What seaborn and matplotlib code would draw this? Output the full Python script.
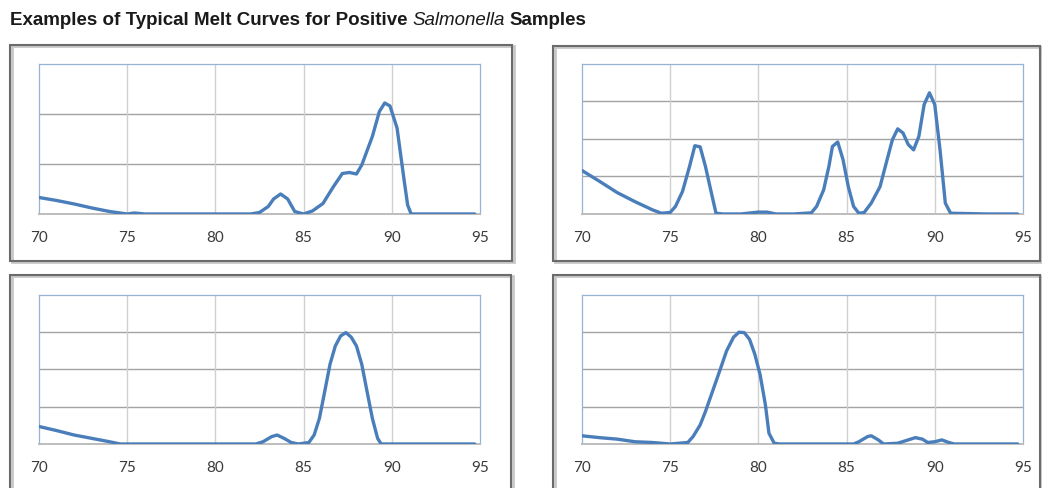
import matplotlib
matplotlib.use("Agg")
import matplotlib.pyplot as plt
import matplotlib.patches as patches
import seaborn as sns

# melt curve samples (temperature, -dF/dT in grid units)
temps1 = [70, 71, 72, 73, 74, 75, 75.4, 76, 78, 80, 82, 82.5, 83, 83.3, 83.7, 84.1, 84.5, 85.0,
          85.5, 86.1, 86.7, 87.2, 87.6, 88.0, 88.3, 88.9, 89.3, 89.6, 89.9, 90.3, 90.7, 90.9,
          91.1, 93, 94.7]
deriv1 = [0.33, 0.27, 0.2, 0.12, 0.05, 0.0, 0.02, 0.0, 0.0, 0.0, 0.0, 0.03, 0.15, 0.3, 0.4, 0.3,
          0.05, 0.0, 0.06, 0.21, 0.55, 0.81, 0.83, 0.8, 0.98, 1.55, 2.05, 2.22, 2.16, 1.72, 0.68,
          0.18, 0.0, 0.0, 0.0]

temps2 = [70, 71, 72, 73, 74, 74.5, 75, 75.3, 75.7, 76.1, 76.4, 76.7, 77.0, 77.3, 77.6, 78, 79,
          80, 80.5, 81, 82, 83, 83.3, 83.7, 84.0, 84.2, 84.5, 84.8, 85.1, 85.4, 85.7, 86.0, 86.4,
          86.9, 87.3, 87.6, 87.9, 88.2, 88.5, 88.8, 89.1, 89.4, 89.7, 90.0, 90.3, 90.6, 90.9,
          93, 94.7]
deriv2 = [1.16, 0.87, 0.57, 0.33, 0.11, 0.02, 0.04, 0.2, 0.6, 1.27, 1.82, 1.79, 1.27, 0.64, 0.02,
          0.0, 0.0, 0.05, 0.05, 0.0, 0.0, 0.03, 0.2, 0.64, 1.27, 1.8, 1.92, 1.45, 0.73, 0.2, 0.02,
          0.04, 0.29, 0.73, 1.45, 1.98, 2.27, 2.16, 1.85, 1.71, 2.07, 2.92, 3.23, 2.92, 1.71, 0.29,
          0.02, 0.0, 0.0]

temps3 = [70, 71, 72, 73, 74, 74.6, 78, 82.3, 82.7, 83.2, 83.5, 83.9, 84.3, 84.7, 85.3, 85.6,
          85.9, 86.2, 86.5, 86.8, 87.1, 87.4, 87.7, 88.0, 88.3, 88.6, 88.9, 89.2, 89.4, 92, 94.7]
deriv3 = [0.47, 0.36, 0.24, 0.15, 0.06, 0.0, 0.0, 0.0, 0.06, 0.2, 0.24, 0.15, 0.04, 0.0, 0.04,
          0.24, 0.69, 1.41, 2.14, 2.63, 2.9, 2.99, 2.87, 2.63, 2.14, 1.41, 0.69, 0.15, 0.0, 0.0, 0.0]

temps4 = [70, 71, 72, 73, 74, 75, 76, 76.3, 76.7, 77.0, 77.4, 77.8, 78.2, 78.6, 78.9, 79.2, 79.5,
          79.8, 80.1, 80.4, 80.6, 80.9, 81.2, 83, 85.4, 85.7, 86.2, 86.4, 86.8, 87.1, 87.9, 88.5,
          88.9, 89.3, 89.6, 90.0, 90.4, 90.8, 91.1, 93, 94.7]
deriv4 = [0.22, 0.17, 0.13, 0.06, 0.04, 0.0, 0.04, 0.2, 0.51, 0.87, 1.41, 1.95, 2.5, 2.87, 3.0,
          2.99, 2.81, 2.41, 1.86, 1.05, 0.29, 0.02, 0.0, 0.0, 0.0, 0.06, 0.2, 0.22, 0.11, 0.0,
          0.02, 0.11, 0.17, 0.13, 0.04, 0.06, 0.11, 0.04, 0.0, 0.0, 0.0]

x_ticks = [70, 75, 80, 85, 90, 95]
y_tops = [3, 4, 4, 4]

sns.set_style("white")
plt.rcParams["font.family"] = ["Liberation Sans", "DejaVu Sans"]

fig = plt.figure(figsize=(10.42, 4.88), dpi=100)

# axes rectangles (figure fractions) and outer frames
ax_boxes = [[0.0374, 0.5615, 0.4232, 0.3074], [0.5585, 0.5615, 0.4232, 0.3074],
            [0.0374, 0.0902, 0.4232, 0.3053], [0.5585, 0.0902, 0.4232, 0.3053]]
frames = [[0.0096, 0.4652, 0.4818, 0.4426], [0.5307, 0.4652, 0.4674, 0.4406],
          [0.0096, -0.05, 0.4808, 0.4865], [0.5307, -0.05, 0.4674, 0.4865]]

for fr in frames:
    fig.patches.append(patches.Rectangle((fr[0] + 0.0015, fr[1] - 0.003), fr[2], fr[3],
                                         transform=fig.transFigure, fill=False,
                                         edgecolor="#c8c8c8", lw=2.0))
    fig.patches.append(patches.Rectangle((fr[0], fr[1]), fr[2], fr[3], transform=fig.transFigure,
                                         fill=False, edgecolor="#6b6b6b", lw=1.5))

series = [(temps1, deriv1), (temps2, deriv2), (temps3, deriv3), (temps4, deriv4)]
axes = []
for box, (tx, dy), top in zip(ax_boxes, series, y_tops):
    ax = fig.add_axes(box)
    axes.append(ax)
    for yv in range(1, top):
        ax.axhline(yv, color="#a3a3a3", lw=1.0, zorder=1)
    for xv in x_ticks[1:-1]:
        ax.axvline(xv, color="#d0d0d0", lw=1.0, zorder=1)
    sns.lineplot(x=tx, y=dy, ax=ax, color="#4a7ebb", lw=2.4, zorder=3)
    ax.set_xlim(70, 95)
    ax.set_ylim(0, top)
    ax.set_xticks(x_ticks)
    ax.set_xticklabels([str(t) for t in x_ticks], family=["Lato", "DejaVu Sans"], fontsize=11,
                       color="#3a3a3a")
    ax.set_yticks([])
    ax.tick_params(axis="x", length=0, pad=12)
    for side in ["top", "left", "right"]:
        ax.spines[side].set_color("#95b3d7")
        ax.spines[side].set_linewidth(0.9)
    ax.spines["bottom"].set_color("#bdbdbd")
    ax.spines["bottom"].set_linewidth(1.4)
    ax.set_xlabel("")
    ax.set_ylabel("")

# title with italic genus name
title_size = 13.5
t1 = fig.text(0.0096, 0.957, "Examples of Typical Melt Curves for Positive", fontsize=title_size,
              fontweight="bold", color="#1a1a1a", va="center", ha="left")
t2 = axes[0].annotate("Salmonella", xy=(1, 0), xycoords=t1, xytext=(3.6, 0),
                      textcoords="offset points", fontsize=title_size, fontstyle="italic",
                      color="#1a1a1a", va="bottom", ha="left", annotation_clip=False)
axes[0].annotate("Samples", xy=(1, 0), xycoords=t2, xytext=(3.6, 0), textcoords="offset points",
                 fontsize=title_size, fontweight="bold", color="#1a1a1a", va="bottom", ha="left",
                 annotation_clip=False)

fig.savefig("out.png", dpi=100, facecolor="white")
